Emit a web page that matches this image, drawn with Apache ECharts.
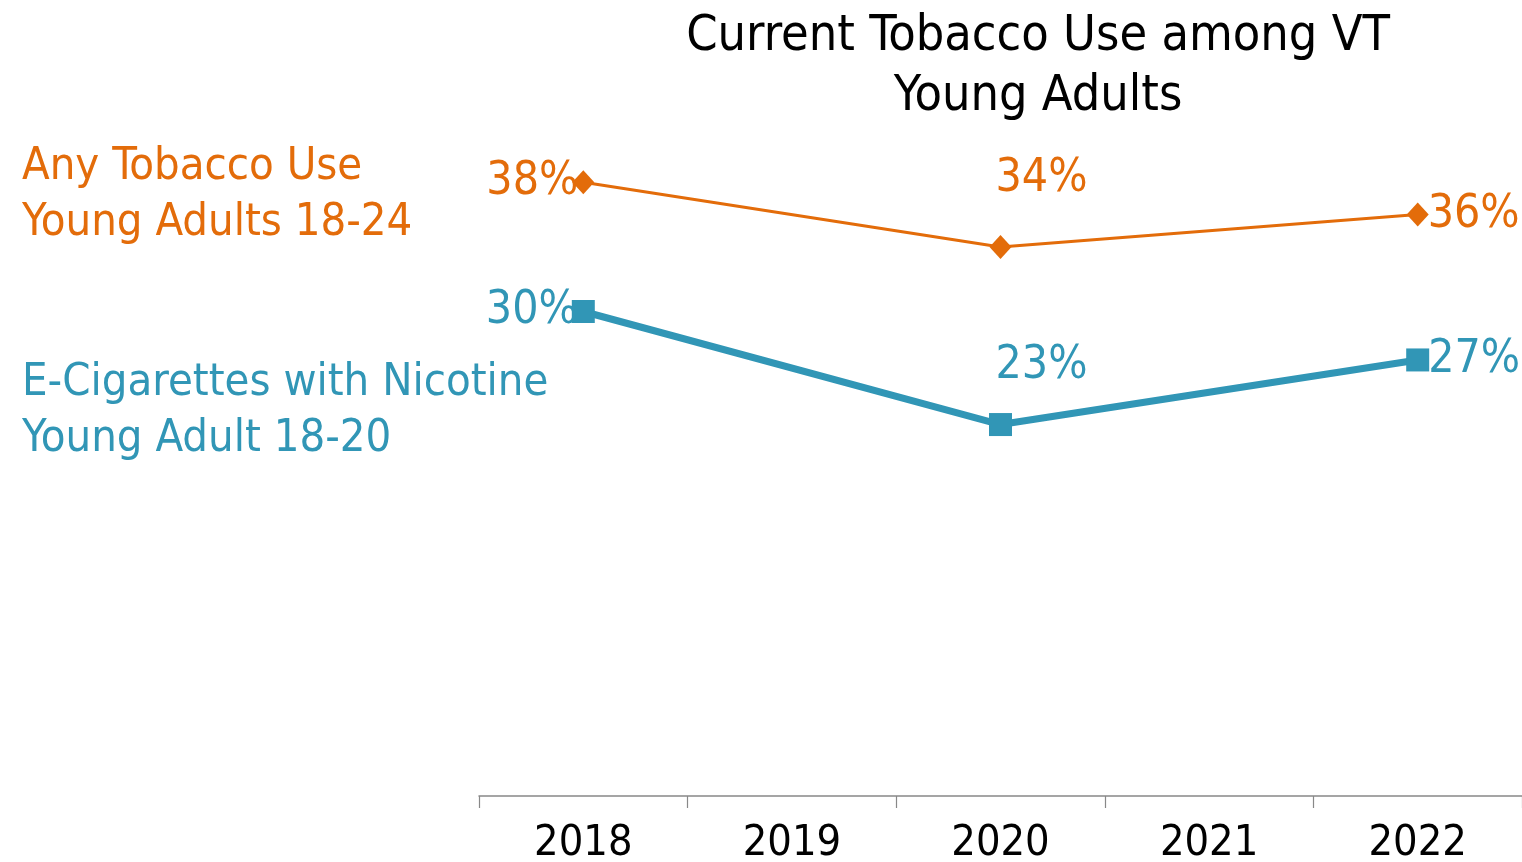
<!DOCTYPE html>
<html><head><meta charset="utf-8">
<script src="https://cdn.jsdelivr.net/npm/echarts@6/dist/echarts.min.js"></script>
<style>html,body{margin:0;padding:0;background:#fff}#c{width:1522px;height:862px}</style>
</head><body><div id="c"></div>
<script>
const years = ['2018','2019','2020','2021','2022'];
const anyTobacco = [38, null, 34, null, 36];
const eCigs = [30, null, 23, null, 27];
const seriesNames = ['Any Tobacco Use\nYoung Adults 18-24', 'E-Cigarettes with Nicotine\nYoung Adult 18-20'];
const titleText = 'Current Tobacco Use among VT\nYoung Adults';

const ORANGE = '#E36C0A', TEAL = '#3196B6';
const FONT = 'DejaVu Sans Condensed';

function labelFor(i, color, n, midOffset) {
  const base = {show: true, color: color, fontSize: 46, fontFamily: FONT, formatter: '{c}%'};
  if (i === 0) return Object.assign(base, {position: 'left', distance: -6});
  if (i === n - 1) return Object.assign(base, {position: 'right', distance: -1});
  return Object.assign(base, {position: 'top', distance: 0, offset: [41, midOffset]});
}
function mkData(arr, color, midOffset) {
  const idx = arr.map((v, i) => v == null ? -1 : i).filter(i => i >= 0);
  return arr.map((v, i) => v == null ? null : {value: v, label: labelFor(idx.indexOf(i), color, idx.length, midOffset)});
}

const chart = echarts.init(document.getElementById('c'));
chart.setOption({
  animation: false,
  title: {text: titleText, left: 1033, top: 2, textAlign: 'center',
    textStyle: {fontFamily: FONT, fontSize: 50, fontWeight: 'normal', color: '#000', lineHeight: 60}},
  grid: {left: 479, right: 0, top: 150, bottom: 66, containLabel: false, outerBoundsMode: 'none'},
  xAxis: {type: 'category', data: years, boundaryGap: true,
    axisLine: {lineStyle: {color: '#888888', width: 1.5}},
    axisTick: {show: true, length: 12, lineStyle: {color: '#888888', width: 1.2}},
    axisLabel: {fontFamily: FONT, fontSize: 43, color: '#000', margin: 26}},
  yAxis: {type: 'value', min: 0, max: 40, show: false, splitLine: {show: false}},
  graphic: [
    {type: 'text', left: 22, top: 139, style: {text: seriesNames[0], fill: ORANGE, font: '45px "' + FONT + '"', lineHeight: 56}},
    {type: 'text', left: 22, top: 355, style: {text: seriesNames[1], fill: TEAL, font: '45px "' + FONT + '"', lineHeight: 56}}
  ],
  series: [
    {name: seriesNames[0], type: 'line', data: mkData(anyTobacco, ORANGE, -33), connectNulls: true,
      symbol: 'diamond', symbolSize: [22, 24], itemStyle: {color: ORANGE},
      lineStyle: {color: ORANGE, width: 3}},
    {name: seriesNames[1], type: 'line', data: mkData(eCigs, TEAL, -24), connectNulls: true,
      symbol: 'rect', symbolSize: 23, itemStyle: {color: TEAL},
      lineStyle: {color: TEAL, width: 7}}
  ]
});
</script></body></html>
